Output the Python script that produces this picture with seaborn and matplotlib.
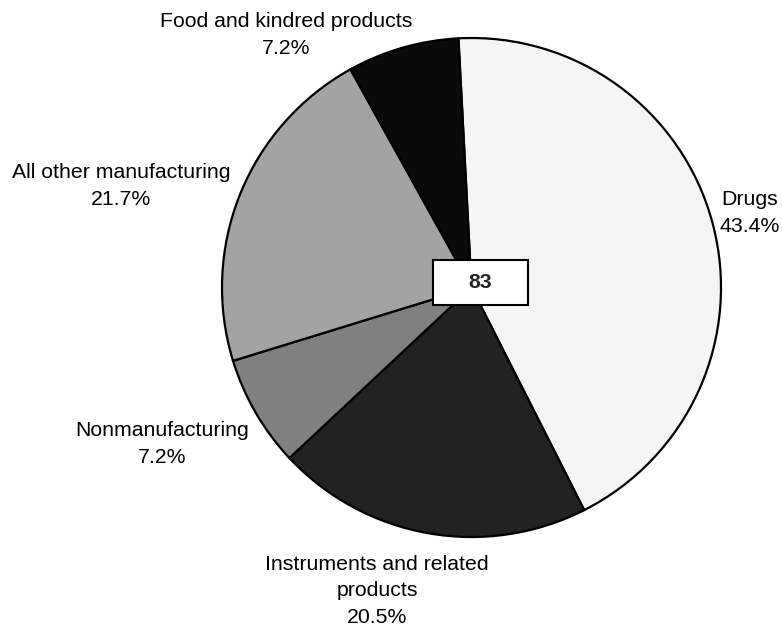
import matplotlib
matplotlib.use("Agg")
import matplotlib.pyplot as plt
from matplotlib.patches import Rectangle
import seaborn as sns

# Patent counts by industry of the assignee
categories = ["Drugs", "Instruments and related\nproducts", "Nonmanufacturing",
              "All other manufacturing", "Food and kindred products"]
counts = [36, 17, 6, 18, 6]
colors = ["#f5f5f5", "#222222", "#808080", "#a3a3a3", "#0a0a0a"]

sns.set_style("white")
plt.rcParams["font.family"] = ["Liberation Sans", "DejaVu Sans"]

W, H = 782, 630
fig = plt.figure(figsize=(W / 100, H / 100), dpi=100)
ax = fig.add_axes([0, 0, 1, 1])

# work in pixel units: x right, y up
cx, cy, r = 471.5, H - 287.5, 249.5
total = sum(counts)

ax.pie(counts, colors=colors, startangle=93, counterclock=False,
       center=(cx, cy), radius=r,
       wedgeprops=dict(edgecolor="black", linewidth=1.6))
ax.set_xlim(0, W)
ax.set_ylim(0, H)
ax.set_aspect("equal")
ax.axis("off")

# category labels with shares
label_pos = [(750, H - 213), (377, H - 591), (162, H - 444),
             (121, H - 186), (286, H - 35)]
for name, n, (lx, ly) in zip(categories, counts, label_pos):
    ax.text(lx, ly, f"{name}\n{100 * n / total:.1f}%", ha="center", va="center",
            fontsize=15.3, linespacing=1.5, color="black")

# total in a box at the centre
bx, by, bw, bh = 433, H - 305, 95, 45
ax.add_patch(Rectangle((bx, by), bw, bh, facecolor="white", edgecolor="black",
                       linewidth=1.5, zorder=5))
ax.text(bx + bw / 2, by + bh / 2, f"{total}", ha="center", va="center",
        fontsize=15.3, fontweight="bold", zorder=6)

fig.savefig("out.png", dpi=100)
